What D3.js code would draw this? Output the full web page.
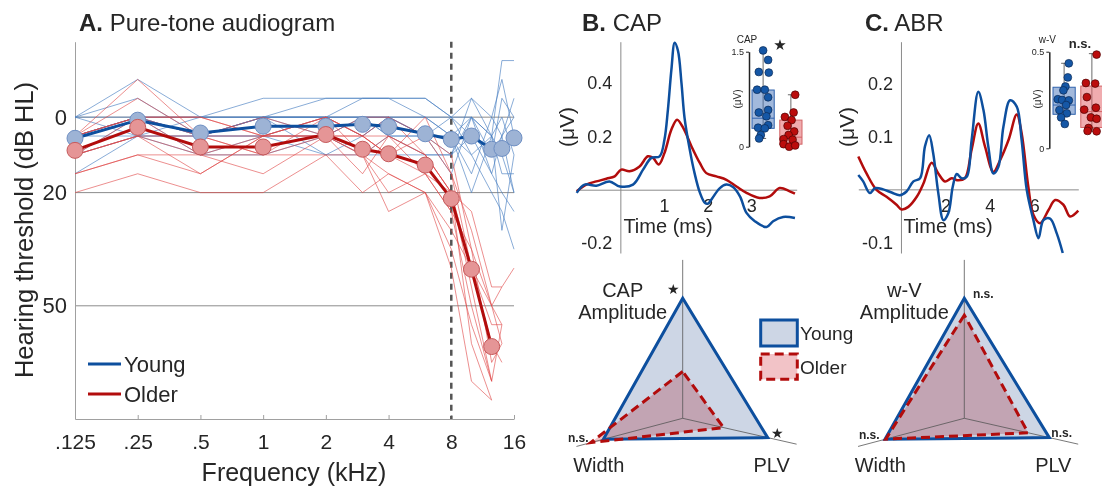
<!DOCTYPE html>
<html>
<head>
<meta charset="utf-8">
<script src="https://cdn.jsdelivr.net/npm/d3@7"></script>
<style>
  body { margin: 0; background: #fff; }
  svg { font-family: "Liberation Sans", Arial, Helvetica, sans-serif; }
  text { fill: #262626; }
</style>
</head>
<body>
<script>
// ---------- data: audiogram ----------
const freqs = [0.125, 0.25, 0.5, 1, 2, 3, 4, 6, 8, 10, 12.5, 14, 16];
const freqTicks = [0.125, 0.25, 0.5, 1, 2, 4, 8, 16];
const freqTickLabels = ['.125', '.25', '.5', '1', '2', '4', '8', '16'];
const dbTicks = [0, 20, 50];

const youngMean = [5.6, 0.8, 4.2, 2.4, 2.4, 1.9, 2.5, 4.4, 5.9, 5.0, 8.5, 8.3, 5.5];
const olderMean = [8.8, 2.7, 7.9, 7.9, 4.6, 8.5, 9.7, 12.7, 21.6, 40.3, 60.8];

const youngSubjects = [
  [0, -10, 0, 0, 0, 0, 0, 0, 5, 0, 5, 0, 10],
  [0, -5, 5, 0, -5, -5, -5, -5, 0, 5, 10, -5, 0],
  [15, 5, 10, 5, 5, 0, 5, 10, 10, 0, 15, 20, 25],
  [5, 0, 0, 0, 5, 10, 5, 5, 10, -5, 5, -15, -15],
  [5, 5, 5, 5, 10, 10, 10, 10, 10, 5, 15, 5, 20],
  [10, 0, 5, 0, 0, 5, 0, 5, 5, 10, 20, 25, 35],
  [5, 0, 5, 5, 0, -5, -5, 0, 5, 15, 0, -10, 5],
  [0, 5, 0, -5, -5, -5, -5, -5, 0, 10, 5, 15, 15],
  [5, 0, 10, 10, 5, 0, 0, 5, 15, 0, 10, 5, 0],
  [10, 5, 5, 0, 0, 0, 5, 5, 5, 20, 5, 30, 10],
  [5, 0, 5, 0, 10, 5, 0, 5, 0, -5, 0, 5, -5],
  [0, 0, 0, 0, 0, 0, 0, 0, 0, 0, 5, 10, 20]
];
const olderSubjects = [
  [20, 15, 20, 20, 10, 20, 15, 20, 35, 55, 70, null, null],
  [10, 5, 15, 5, 0, 10, 25, 20, 30, 40, 55, 55, null],
  [10, 0, 10, 15, 5, 5, 10, 15, 25, 35, 65, 60, null],
  [5, -5, 5, 10, 5, 15, 5, 10, 20, 45, 70, null, null],
  [15, 10, 15, 5, 5, 10, 15, 20, 40, 70, 75, null, null],
  [5, 0, 0, 5, 0, 5, 10, 5, 15, 30, 50, 45, 40],
  [10, 5, 5, 10, 0, 5, 5, 10, 20, 25, 45, 45, null],
  [5, -10, 5, 0, 5, 0, 0, 5, 10, 35, 50, 60, null],
  [10, 5, 10, 10, 10, 10, 5, 15, 25, 50, 70, 55, null],
  [5, 0, 5, 5, 0, 5, 10, 0, 15, 40, 60, 65, null],
  [15, 10, 10, 5, 5, 10, 20, 15, 20, 60, 75, null, null],
  [5, 0, 0, 5, 5, 5, 0, 10, 20, 40, 50, 55, null]
];

// ---------- data: CAP / ABR waveforms (ms, µV) ----------
const capYoungT = [-1.0, -0.82, -0.55, -0.25, -0.01, 0.29, 0.52, 0.71, 0.90, 1.01, 1.09, 1.17, 1.245, 1.32, 1.40, 1.47, 1.59, 1.70, 1.82, 1.94, 2.01, 2.11, 2.28, 2.43, 2.58, 2.74, 2.89, 3.08, 3.35, 3.50, 3.73, 4.0];
const capYoungV = [-0.012, 0.019, 0.015, 0.031, 0.012, 0.019, 0.075, 0.119, 0.125, 0.187, 0.30, 0.45, 0.55, 0.52, 0.40, 0.27, 0.15, 0.062, -0.01, -0.05, -0.052, -0.031, 0.006, 0.019, 0.01, -0.025, -0.087, -0.118, -0.14, -0.118, -0.102, -0.106];
const capOlderT = [-1.0, -0.78, -0.55, -0.32, -0.13, 0.02, 0.21, 0.44, 0.63, 0.75, 0.88, 1.01, 1.17, 1.30, 1.44, 1.63, 1.82, 1.97, 2.20, 2.43, 2.66, 2.89, 3.19, 3.42, 3.65, 3.88, 4.0];
const capOlderV = [-0.006, 0.019, 0.031, 0.041, 0.05, 0.075, 0.069, 0.087, 0.125, 0.119, 0.094, 0.137, 0.225, 0.262, 0.231, 0.162, 0.1, 0.062, 0.05, 0.037, 0.012, -0.012, -0.031, -0.025, 0.006, -0.006, -0.015];

const abrYoungT = [-1.92, -1.70, -1.40, -1.17, -0.80, -0.42, -0.05, 0.25, 0.56, 0.86, 1.08, 1.27, 1.45, 1.68, 1.91, 2.13, 2.33, 2.51, 2.73, 2.96, 3.18, 3.48, 3.71, 3.93, 4.16, 4.38, 4.61, 4.91, 5.21, 5.43, 5.66, 5.96, 6.19, 6.41, 6.71, 7.01, 7.28];
const abrYoungV = [0.027, 0.015, -0.007, 0.002, 0.0, -0.006, -0.011, -0.004, 0.015, 0.021, 0.081, 0.102, 0.068, -0.007, -0.058, -0.045, 0.005, 0.029, 0.021, 0.024, 0.093, 0.184, 0.15, 0.081, 0.03, 0.042, 0.118, 0.168, 0.156, 0.093, -0.001, -0.058, -0.092, -0.058, -0.055, -0.083, -0.12];
const abrOlderT = [-1.92, -1.55, -1.10, -0.65, -0.20, 0.03, 0.33, 0.71, 1.01, 1.38, 1.68, 1.98, 2.28, 2.58, 2.88, 3.18, 3.48, 3.78, 4.16, 4.46, 4.84, 5.21, 5.43, 5.73, 5.96, 6.26, 6.64, 6.94, 7.31, 7.61, 7.98];
const abrOlderV = [0.062, 0.03, -0.001, -0.014, -0.029, -0.038, -0.033, -0.014, 0.011, 0.05, 0.03, 0.015, 0.021, 0.017, 0.021, 0.075, 0.124, 0.081, 0.033, 0.055, 0.093, 0.141, 0.106, 0.005, -0.048, -0.064, -0.039, -0.02, -0.029, -0.051, -0.04];

// ---------- data: inset amplitudes (µV) ----------
const capAmpYoung = [1.52, 1.37, 1.18, 1.17, 0.9, 0.9, 0.78, 0.58, 0.54, 0.48, 0.34, 0.30, 0.29, 0.185, 0.13];
const capAmpOlder = [0.82, 0.54, 0.47, 0.42, 0.33, 0.24, 0.185, 0.12, 0.11, 0.04, 0.0, 0.02];
const capBoxYoung = [0.13, 0.29, 0.45, 0.895, 1.52];   // whisker lo, q1, median, q3, whisker hi
const capBoxOlder = [0.0, 0.04, 0.15, 0.42, 0.82];
const abrAmpYoung = [0.44, 0.367, 0.32, 0.30, 0.254, 0.25, 0.248, 0.224, 0.198, 0.181, 0.16, 0.126];
const abrAmpOlder = [0.485, 0.338, 0.335, 0.265, 0.21, 0.20, 0.16, 0.153, 0.105, 0.09, 0.088];
const abrBoxYoung = [0.129, 0.176, 0.224, 0.316, 0.44];
const abrBoxOlder = [0.088, 0.108, 0.19, 0.322, 0.49];

// ---------- data: radar (normalised to young) ----------
const radarAxes = ['Amplitude', 'Width', 'PLV'];
const capRadarYoung = [1, 1, 1];
const capRadarOlder = [0.39, 1.16, 0.48];
const abrRadarYoung = [1, 1, 1];
const abrRadarOlder = [0.86, 0.99, 0.75];

// horizontal jitter of the dots in the insets (px)
const jitCapYoung = [0, 5, -4.3, 5.7, -6, 1.7, 5, 5, -4.3, 3.3, 5, -5, 1.7, -2.3, -4];
const jitCapOlder = [4.3, 2.7, -6, 0.7, -3.3, 3.3, -2.3, -7.3, 1.7, -7.3, -1.7, 4.3];
const jitAbrYoung = [4.7, 3.7, 1.3, -0.7, -6.3, -2, 4.7, 2, -4.7, 2.7, -3, 0.7];
const jitAbrOlder = [4.7, -6, 3.3, -5, 4, -7.7, -1, 4.7, -3.3, -4.3, 4.7];

const BLUE = '#0d4f9e', RED = '#b20c0c';
const plain = d => String(d);

const svg = d3.select('body').append('svg')
  .attr('width', 1102).attr('height', 489);

function cleanAxis(g, size, col) {
  g.attr('font-size', null).attr('font-family', null);
  g.selectAll('text').attr('font-size', size).attr('fill', '#262626');
  g.selectAll('path, line').attr('stroke', col);
}

function title(x, y, letter, rest) {
  const t = svg.append('text').attr('x', x).attr('y', y).attr('font-size', 24);
  t.append('tspan').attr('font-weight', 'bold').text(letter);
  t.append('tspan').text(' ' + rest);
}

// ================= A. audiogram =================
const xA = d3.scaleLog().base(2).domain([0.125, 16]).range([75, 514]);
const yA = d3.scaleLinear().domain([-20, 80]).range([41.7, 419]);
const gA = svg.append('g');

gA.selectAll('line.grid').data(dbTicks).join('line')
  .attr('x1', xA(0.125)).attr('x2', xA(16))
  .attr('y1', d => yA(d)).attr('y2', d => yA(d))
  .attr('stroke', '#8c8c8c').attr('stroke-width', 1);

const axA = gA.append('g').attr('transform', `translate(0,${yA(80)})`)
  .call(d3.axisBottom(xA).tickValues(freqTicks)
    .tickFormat(d => freqTickLabels[freqTicks.indexOf(d)])
    .tickSizeInner(-4).tickSizeOuter(0).tickPadding(15));
cleanAxis(axA, 21, '#a0a0a0');

const ayA = gA.append('g').attr('transform', `translate(${xA(0.125)},0)`)
  .call(d3.axisLeft(yA).tickValues(dbTicks).tickFormat(plain).tickSize(0).tickPadding(8));
cleanAxis(ayA, 22, '#a0a0a0');

gA.append('line')
  .attr('x1', xA(8)).attr('x2', xA(8)).attr('y1', yA(-20)).attr('y2', yA(80))
  .attr('stroke', '#555').attr('stroke-width', 2.5).attr('stroke-dasharray', '6,5');

const lineA = d3.line().defined(d => d[1] != null)
  .x(d => xA(d[0])).y(d => yA(d[1]));
const pair = row => row.map((v, i) => [freqs[i], v]);

gA.selectAll('path.ys').data(youngSubjects).join('path')
  .attr('d', d => lineA(pair(d))).attr('fill', 'none')
  .attr('stroke', '#4a7fc2').attr('stroke-opacity', 0.65).attr('stroke-width', 1);
gA.selectAll('path.os').data(olderSubjects).join('path')
  .attr('d', d => lineA(pair(d))).attr('fill', 'none')
  .attr('stroke', '#e04545').attr('stroke-opacity', 0.6).attr('stroke-width', 1);

function meanSeries(vals, col, fill, edge) {
  const pts = pair(vals);
  gA.append('path').attr('d', lineA(pts)).attr('fill', 'none')
    .attr('stroke', col).attr('stroke-width', 3);
  gA.selectAll(null).data(pts).join('circle')
    .attr('cx', d => xA(d[0])).attr('cy', d => yA(d[1])).attr('r', 8)
    .attr('fill', fill).attr('stroke', edge).attr('stroke-width', 1);
}
meanSeries(youngMean, BLUE, '#9db3d5', '#6e8fc3');
meanSeries(olderMean, RED, '#e59596', '#c55a5c');

// legend A
[['Young', BLUE, 364], ['Older', RED, 394]].forEach(([lab, col, ly]) => {
  gA.append('line').attr('x1', 88).attr('x2', 121).attr('y1', ly).attr('y2', ly)
    .attr('stroke', col).attr('stroke-width', 3);
  gA.append('text').attr('x', 124).attr('y', ly + 8).attr('font-size', 22).text(lab);
});

gA.append('text').attr('transform', 'translate(33,230) rotate(-90)')
  .attr('text-anchor', 'middle').attr('font-size', 25.5).text('Hearing threshold (dB HL)');
gA.append('text').attr('x', 294).attr('y', 481).attr('text-anchor', 'middle')
  .attr('font-size', 25).text('Frequency (kHz)');
title(79, 31, 'A.', 'Pure-tone audiogram');

// ================= B / C waveforms =================
function wavePanel(o) {
  const g = svg.append('g');
  const x = d3.scaleLinear().domain(o.xDom).range(o.xRange);
  const y = d3.scaleLinear().domain(o.yDom).range([253, 41.7]);

  const ax = g.append('g').attr('transform', `translate(0,${y(0)})`)
    .call(d3.axisBottom(x).tickValues(o.xTicks).tickFormat(plain).tickSize(0).tickPadding(10));
  cleanAxis(ax, 18, '#8a8a8a');
  const ay = g.append('g').attr('transform', `translate(${x(0)},0)`)
    .call(d3.axisLeft(y).tickValues(o.yTicks).tickFormat(plain).tickSize(0).tickPadding(8));
  cleanAxis(ay, 18, '#8a8a8a');

  const line = d3.line().curve(d3.curveCatmullRom.alpha(0.5))
    .x(d => x(d[0])).y(d => y(d[1]));
  [[o.oldT, o.oldV, RED], [o.youT, o.youV, BLUE]].forEach(([T, V, c]) => {
    g.append('path').attr('d', line(T.map((t, i) => [t, V[i]])))
      .attr('fill', 'none').attr('stroke', c).attr('stroke-width', 2.5);
  });

  g.append('text').attr('x', o.timeX).attr('y', 233).attr('text-anchor', 'middle')
    .attr('font-size', 20).text('Time (ms)');
  g.append('text').attr('transform', `translate(${o.uvX},127) rotate(-90)`)
    .attr('text-anchor', 'middle').attr('font-size', 21).text('(μV)');
}

wavePanel({
  xDom: [-1, 4.04], xRange: [576.7, 796.7], yDom: [-0.237, 0.554],
  xTicks: [1, 2, 3], yTicks: [-0.2, 0.2, 0.4],
  youT: capYoungT, youV: capYoungV, oldT: capOlderT, oldV: capOlderV,
  timeX: 668, uvX: 574
});
wavePanel({
  xDom: [-1.92, 7.98], xRange: [858.3, 1078.3], yDom: [-0.12, 0.2785],
  xTicks: [2, 4, 6], yTicks: [-0.1, 0.1, 0.2],
  youT: abrYoungT, youV: abrYoungV, oldT: abrOlderT, oldV: abrOlderV,
  timeX: 948, uvX: 854
});
title(582, 31, 'B.', 'CAP');
title(865, 31, 'C.', 'ABR');

// ================= insets =================
function inset(o) {
  const g = svg.append('g');
  const y = d3.scaleLinear().domain([0, o.max]).range([o.y0, o.y1]);
  const xb = d3.scaleBand().domain(['Young', 'Older']).range(o.xr).paddingInner(0.2);
  const ay = g.append('g').attr('transform', `translate(${o.ax},0)`)
    .call(d3.axisLeft(y).tickValues([0, o.max]).tickFormat(plain)
      .tickSize(3).tickPadding(2).tickSizeOuter(0));
  cleanAxis(ay, 9, '#222');
  ay.select('.domain').attr('stroke-width', 1.5);
  ay.selectAll('text').attr('fill', '#555');

  const groups = [
    ['Young', o.boxY, o.ptsY, o.jitY, 'rgba(70,115,185,0.5)', '#2f62ad', '#1557a6', '#0b2a55'],
    ['Older', o.boxO, o.ptsO, o.jitO, 'rgba(225,90,95,0.5)', '#d36467', '#bb0d0d', '#4d0505']
  ];
  groups.forEach(([k, b, pts, jit, fill, edge, dot, dotEdge]) => {
    const x0 = xb(k), w = xb.bandwidth(), xc = x0 + w / 2;
    g.append('line').attr('x1', xc).attr('x2', xc).attr('y1', y(b[0])).attr('y2', y(b[4]))
      .attr('stroke', '#444').attr('stroke-width', 0.8);
    [b[0], b[4]].forEach(v => g.append('line').attr('x1', xc - 3).attr('x2', xc + 3)
      .attr('y1', y(v)).attr('y2', y(v)).attr('stroke', '#444').attr('stroke-width', 0.8));
    g.append('rect').attr('x', x0).attr('y', y(b[3])).attr('width', w)
      .attr('height', y(b[1]) - y(b[3])).attr('fill', fill).attr('stroke', edge);
    g.append('line').attr('x1', x0).attr('x2', x0 + w).attr('y1', y(b[2])).attr('y2', y(b[2]))
      .attr('stroke', edge).attr('stroke-width', 1);
    g.selectAll(null).data(pts).join('circle')
      .attr('cx', (d, i) => xc + jit[i]).attr('cy', d => y(d)).attr('r', 3.9)
      .attr('fill', dot).attr('stroke', dotEdge).attr('stroke-width', 0.7);
  });
  g.append('text').attr('x', o.ax - 2).attr('y', 43).attr('text-anchor', 'middle')
    .attr('font-size', 10).attr('fill', '#333').text(o.name);
  g.append('text').attr('transform', `translate(${o.ax - 8},99) rotate(-90)`)
    .attr('text-anchor', 'middle').attr('font-size', 10).attr('fill', '#444').text('(μV)');
  if (o.sig === '★') {
    g.append('text').attr('x', o.sigX).attr('y', 50).attr('text-anchor', 'middle')
      .attr('font-family', 'DejaVu Sans').attr('font-size', 15).text('★');
  } else {
    g.append('text').attr('x', o.sigX).attr('y', 48).attr('text-anchor', 'middle')
      .attr('font-size', 13).attr('font-weight', 'bold').text(o.sig);
  }
}
inset({ max: 1.5, y0: 146.7, y1: 51.7, ax: 749, xr: [752, 802], name: 'CAP',
  boxY: capBoxYoung, boxO: capBoxOlder, ptsY: capAmpYoung, ptsO: capAmpOlder,
  jitY: jitCapYoung, jitO: jitCapOlder, sig: '★', sigX: 780 });
inset({ max: 0.5, y0: 148.3, y1: 51.7, ax: 1049.3, xr: [1053, 1103], name: 'w-V',
  boxY: abrBoxYoung, boxO: abrBoxOlder, ptsY: abrAmpYoung, ptsO: abrAmpOlder,
  jitY: jitAbrYoung, jitO: jitAbrOlder, sig: 'n.s.', sigX: 1080 });

// ================= radar plots =================
// projected direction of each axis (px per unit value): top, lower-left, lower-right
const radarDirs = [[0, -120], [-79.3, 21], [85, 19.3]];
const radarAxisMax = [1.32, 1.34, 1.34];

function radar(o) {
  const g = svg.append('g');
  const r = d3.scaleLinear().domain([0, 1]).range([0, 1]);
  const pt = (v, i) => [o.cx + radarDirs[i][0] * r(v), o.cy + radarDirs[i][1] * r(v)];
  const poly = d3.line().curve(d3.curveLinearClosed);

  g.append('path').attr('d', poly(o.young.map(pt))).attr('fill', '#cdd6e5');
  g.append('path').attr('d', poly(o.older.map(pt))).attr('fill', '#f2c3c7')
    .style('mix-blend-mode', 'multiply');
  radarAxes.forEach((a, i) => {
    const e = pt(radarAxisMax[i], i);
    g.append('line').attr('x1', o.cx).attr('y1', o.cy).attr('x2', e[0]).attr('y2', e[1])
      .attr('stroke', '#555').attr('stroke-width', 0.8);
  });
  g.append('path').attr('d', poly(o.young.map(pt))).attr('fill', 'none')
    .attr('stroke', BLUE).attr('stroke-width', 3).attr('stroke-linejoin', 'miter');
  g.append('path').attr('d', poly(o.older.map(pt))).attr('fill', 'none')
    .attr('stroke', RED).attr('stroke-width', 3).attr('stroke-dasharray', '9,5');

  g.append('text').attr('x', o.cx - 60).attr('y', 297).attr('text-anchor', 'middle')
    .attr('font-size', 20).text(o.name);
  g.append('text').attr('x', o.cx - 60).attr('y', 319).attr('text-anchor', 'middle')
    .attr('font-size', 20).text(radarAxes[0]);
  g.append('text').attr('x', o.cx - 84).attr('y', 472).attr('text-anchor', 'middle')
    .attr('font-size', 20).text(radarAxes[1]);
  g.append('text').attr('x', o.cx + 89).attr('y', 472).attr('text-anchor', 'middle')
    .attr('font-size', 20).text(radarAxes[2]);

  o.sig.forEach(s => {
    if (s[0] === '★') {
      g.append('text').attr('x', o.cx + s[1]).attr('y', o.cy + s[2] + 5).attr('text-anchor', 'middle')
        .attr('font-family', 'DejaVu Sans').attr('font-size', 14).text('★');
    } else {
      g.append('text').attr('x', o.cx + s[1]).attr('y', o.cy + s[2] + 4).attr('text-anchor', 'middle')
        .attr('font-size', 12).attr('font-weight', 'bold').text(s[0]);
    }
  });
}
radar({ cx: 682.7, cy: 418.3, young: capRadarYoung, older: capRadarOlder, name: 'CAP',
  sig: [['★', -9.4, -129], ['n.s.', -104.4, 20], ['★', 94.6, 14.4]] });
radar({ cx: 964.3, cy: 418.3, young: abrRadarYoung, older: abrRadarOlder, name: 'w-V',
  sig: [['n.s.', 19, -124], ['n.s.', -95, 16.7], ['n.s.', 97.4, 14.4]] });

// radar legend
const leg = svg.append('g');
[['Young', 320, 26, '#cdd6e5', BLUE, null], ['Older', 354, 25.3, '#f2c3c7', RED, '9,5']]
  .forEach(([lab, ly, h, f, s, dash]) => {
    leg.append('rect').attr('x', 760.7).attr('y', ly).attr('width', 36.6).attr('height', h)
      .attr('fill', f).attr('stroke', s).attr('stroke-width', 3).attr('stroke-dasharray', dash);
    leg.append('text').attr('x', 800).attr('y', ly + h / 2 + 7).attr('font-size', 19).text(lab);
  });
</script>
</body>
</html>
